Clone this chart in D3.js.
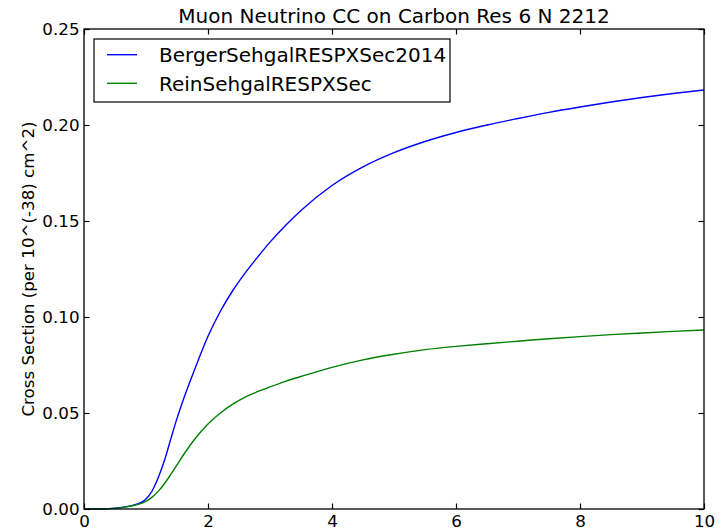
<!DOCTYPE html>
<html>
<head>
<meta charset="utf-8">
<script src="https://cdn.jsdelivr.net/npm/d3@7/dist/d3.min.js"></script>
<style>
  html, body { margin: 0; padding: 0; background: #fff; }
  svg { display: block; font-family: "DejaVu Sans", sans-serif; }
</style>
</head>
<body>
<svg id="chart" width="726" height="532"></svg>
<script>
// ---- data ----
const energy = [0, 0.2, 0.4, 0.6, 0.8, 1.0, 1.1, 1.2, 1.3, 1.4, 1.5, 1.6, 1.8, 2.0, 2.2, 2.4, 2.6, 2.8, 3.0, 3.25, 3.5, 4.0, 4.5, 5.0, 5.5, 6.0, 6.5, 7.0, 7.5, 8.0, 8.5, 9.0, 9.5, 10];
const bergerSehgal = [0, 0, 0.0002, 0.0008, 0.002, 0.0052, 0.0095, 0.0165, 0.0255, 0.0365, 0.0472, 0.0568, 0.0740, 0.0900, 0.1030, 0.1138, 0.1230, 0.1312, 0.1390, 0.1477, 0.1555, 0.1685, 0.1782, 0.1856, 0.1914, 0.1961, 0.2000, 0.2034, 0.2066, 0.2094, 0.2120, 0.2143, 0.2164, 0.2182];
const reinSehgal = [0, 0, 0.0002, 0.0007, 0.0018, 0.0040, 0.0062, 0.0093, 0.0133, 0.0180, 0.0230, 0.0280, 0.0370, 0.0443, 0.0500, 0.0546, 0.0583, 0.0611, 0.0636, 0.0665, 0.0690, 0.0738, 0.0777, 0.0806, 0.0830, 0.0847, 0.0861, 0.0874, 0.0887, 0.0898, 0.0908, 0.0917, 0.0925, 0.0932];
const seriesNames = ["BergerSehgalRESPXSec2014", "ReinSehgalRESPXSec"];
const seriesColors = ["#0000ff", "#008000"];
const xTicks = [0, 2, 4, 6, 8, 10];
const yTicks = [0, 0.05, 0.10, 0.15, 0.20, 0.25];
const titleText = "Muon Neutrino CC on Carbon Res 6 N 2212";
const yLabelText = "Cross Section (per 10^(-38) cm^2)";

// ---- layout ----
const svg = d3.select("#chart");
const L = 84, R = 704, T = 29, B = 509;
const x = d3.scaleLinear().domain([0, 10]).range([L, R]);
const y = d3.scaleLinear().domain([0, 0.25]).range([B, T]);
const tick = 5.5;

function styleAxis(g) {
  g.select(".domain").remove();
  g.selectAll(".tick line").attr("stroke", "#000").attr("stroke-width", 1.2);
  g.selectAll(".tick text").attr("fill", "#000").style("font-family", "DejaVu Sans").style("font-size", "16.7px");
}

// curves
const series = [bergerSehgal, reinSehgal];
const line = d3.line().x(d => x(d[0])).y(d => y(d[1])).curve(d3.curveMonotoneX);
series.forEach((vals, i) => {
  svg.append("path")
    .datum(energy.map((e, j) => [e, vals[j]]))
    .attr("d", line)
    .attr("fill", "none")
    .attr("stroke", seriesColors[i])
    .attr("stroke-width", 1.4);
});

// axes
svg.append("g").attr("transform", `translate(0,${B})`)
  .call(d3.axisBottom(x).tickValues(xTicks).tickFormat(d3.format("d")).tickSize(-tick).tickPadding(6))
  .call(styleAxis);
svg.append("g").attr("transform", `translate(0,${T})`)
  .call(d3.axisTop(x).tickValues(xTicks).tickFormat("").tickSize(-tick))
  .call(styleAxis);
svg.append("g").attr("transform", `translate(${L},0)`)
  .call(d3.axisLeft(y).tickValues(yTicks).tickFormat(d3.format(".2f")).tickSize(-tick).tickPadding(4.5))
  .call(styleAxis);
svg.append("g").attr("transform", `translate(${R},0)`)
  .call(d3.axisRight(y).tickValues(yTicks).tickFormat("").tickSize(-tick))
  .call(styleAxis);

// frame
svg.append("rect").attr("x", L).attr("y", T).attr("width", R - L).attr("height", B - T)
  .attr("fill", "none").attr("stroke", "#000").attr("stroke-width", 1.3);

// title
svg.append("text").attr("x", (L + R) / 2).attr("y", 23).attr("text-anchor", "middle")
  .style("font-size", "20px").attr("fill", "#000").text(titleText);

// y label
svg.append("text").attr("transform", `translate(34,${(T + B) / 2}) rotate(-90)`)
  .attr("text-anchor", "middle").style("font-size", "16.7px").attr("fill", "#000").text(yLabelText);

// legend
const leg = svg.append("g");
leg.append("rect").attr("x", 94).attr("y", 39).attr("width", 356).attr("height", 63)
  .attr("fill", "#fff").attr("stroke", "#000").attr("stroke-width", 1.2);
seriesNames.forEach((name, i) => {
  const ly = 54.7 + i * 28.6;
  leg.append("line").attr("x1", 107).attr("x2", 137).attr("y1", ly).attr("y2", ly)
    .attr("stroke", seriesColors[i]).attr("stroke-width", 1.4);
  leg.append("text").attr("x", 159).attr("y", ly + 7.2)
    .style("font-size", "20px").attr("fill", "#000").text(name);
});
</script>
</body>
</html>
